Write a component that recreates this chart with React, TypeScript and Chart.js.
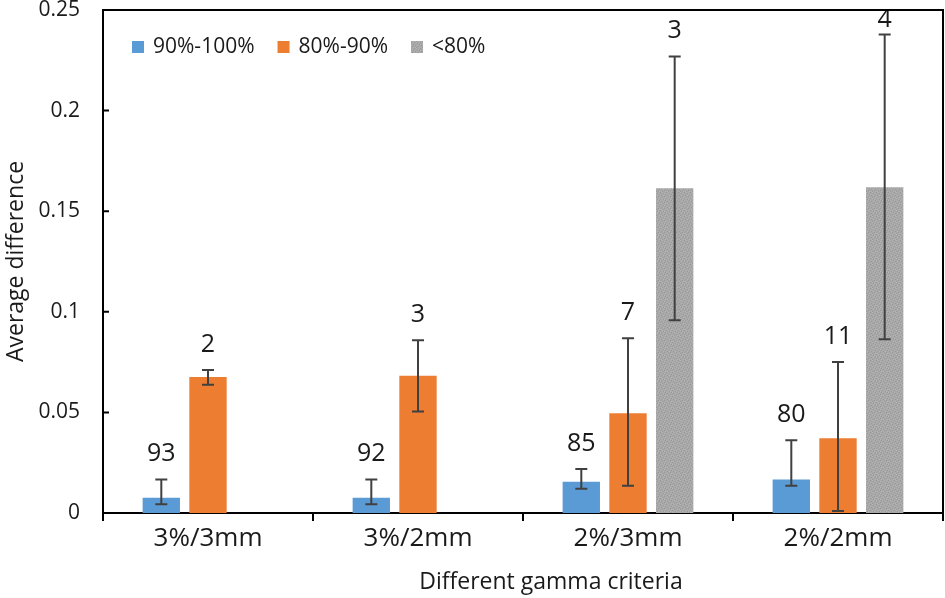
import { useEffect, useRef } from "react";
import { Chart, registerables } from "chart.js";

Chart.register(...registerables);

const categories = ["3%/3mm", "3%/2mm", "2%/3mm", "2%/2mm"];
const seriesNames = ["90%-100%", "80%-90%", "<80%"];

// mean values
const highValues = [0.0076, 0.0076, 0.0155, 0.0167];
const midValues = [0.0676, 0.0682, 0.0496, 0.0371];
const lowValues = [null, null, 0.1614, 0.1619];

// error bar ends
const highErrLow = [0.0043, 0.0043, 0.0121, 0.0135];
const highErrHigh = [0.0167, 0.0167, 0.0219, 0.0361];
const midErrLow = [0.0638, 0.0504, 0.0135, 0.001];
const midErrHigh = [0.0711, 0.0858, 0.0869, 0.0751];
const lowErrLow = [null, null, 0.0958, 0.0864];
const lowErrHigh = [null, null, 0.2269, 0.2378];

// numbers written over each bar
const highCounts = [93, 92, 85, 80];
const midCounts = [2, 3, 7, 11];
const lowCounts = [null, null, 3, 4];

const yTicks = [0, 0.05, 0.1, 0.15, 0.2, 0.25];

const xTitle = "Different gamma criteria";
const yTitle = "Average difference";

const FONT = "'Open Sans', sans-serif";
const TEXT = "#1a1a1a";

// stippled grey fill like the original
function greyPattern(): CanvasPattern | string {
  const c = document.createElement("canvas");
  c.width = 6;
  c.height = 6;
  const g = c.getContext("2d");
  if (!g) return "#a6a6a6";
  g.fillStyle = "#a8a8a8";
  g.fillRect(0, 0, 6, 6);
  g.fillStyle = "#999999";
  const dots = [[0, 0], [3, 1], [5, 2], [1, 3], [4, 4], [2, 5]];
  dots.forEach(([px, py]) => g.fillRect(px, py, 1, 1));
  g.fillStyle = "#b4b4b4";
  const light = [[2, 0], [0, 2], [4, 1], [3, 3], [5, 5], [1, 5]];
  light.forEach(([px, py]) => g.fillRect(px, py, 1, 1));
  const p = g.createPattern(c, "repeat");
  return p ?? "#a6a6a6";
}

const extrasPlugin = {
  id: "extras",
  afterDatasetsDraw(chart: any) {
    const { ctx, chartArea } = chart;
    const y = chart.scales.y;
    ctx.save();

    // error bars
    chart.data.datasets.forEach((ds: any, i: number) => {
      const meta = chart.getDatasetMeta(i);
      meta.data.forEach((bar: any, j: number) => {
        const lo = ds.errLow[j];
        const hi = ds.errHigh[j];
        if (lo == null || hi == null) return;
        const yl = y.getPixelForValue(lo);
        const yh = y.getPixelForValue(hi);
        ctx.strokeStyle = "#404040";
        ctx.lineWidth = 2;
        ctx.beginPath();
        ctx.moveTo(bar.x, yl);
        ctx.lineTo(bar.x, yh);
        ctx.moveTo(bar.x - 6, yl);
        ctx.lineTo(bar.x + 6, yl);
        ctx.moveTo(bar.x - 6, yh);
        ctx.lineTo(bar.x + 6, yh);
        ctx.stroke();

        const n = ds.counts[j];
        if (n != null) {
          ctx.fillStyle = TEXT;
          ctx.font = `25px ${FONT}`;
          ctx.textAlign = "center";
          ctx.textBaseline = "alphabetic";
          ctx.fillText(String(n), bar.x, Math.max(yh - 18, 27));
        }
      });
    });

    // frame
    ctx.strokeStyle = "#000";
    ctx.lineWidth = 2;
    ctx.beginPath();
    ctx.moveTo(chartArea.left, chartArea.top);
    ctx.lineTo(chartArea.right, chartArea.top);
    ctx.lineTo(chartArea.right, chartArea.bottom);
    ctx.stroke();

    // inward y tick marks
    ctx.beginPath();
    y.ticks.forEach((t: any) => {
      const py = y.getPixelForValue(t.value);
      ctx.moveTo(chartArea.left, py);
      ctx.lineTo(chartArea.left + 6, py);
    });
    ctx.stroke();

    // legend inside the plot
    ctx.font = `21px ${FONT}`;
    ctx.textAlign = "left";
    ctx.textBaseline = "middle";
    let lx = chartArea.left + 29;
    const ly = chartArea.top + 37;
    chart.data.datasets.forEach((ds: any) => {
      ctx.fillStyle = ds.backgroundColor;
      ctx.fillRect(lx, ly - 6, 12, 12);
      ctx.fillStyle = TEXT;
      ctx.fillText(ds.label, lx + 21, ly);
      lx += 21 + ctx.measureText(ds.label).width + 23;
    });

    // x axis title, sits a bit right of centre in the original
    ctx.font = `23px ${FONT}`;
    ctx.textAlign = "center";
    ctx.textBaseline = "middle";
    ctx.fillStyle = TEXT;
    ctx.fillText(xTitle, (chartArea.left + chartArea.right) / 2 + 28, chart.height - 16);

    ctx.restore();
  },
};

const BarChart = () => {
  const chartRef = useRef<HTMLCanvasElement>(null);
  const chartInstanceRef = useRef<Chart>();

  useEffect(() => {
    if (chartRef.current) {
      if (chartInstanceRef.current) {
        chartInstanceRef.current.destroy();
      }
      const ctx = chartRef.current.getContext("2d");
      if (ctx) {
        chartInstanceRef.current = new Chart(ctx, {
          type: "bar",
          data: {
            labels: categories,
            datasets: [
              {
                label: seriesNames[0],
                data: highValues,
                backgroundColor: "#5b9bd5",
                errLow: highErrLow,
                errHigh: highErrHigh,
                counts: highCounts,
              } as any,
              {
                label: seriesNames[1],
                data: midValues,
                backgroundColor: "#ed7d31",
                errLow: midErrLow,
                errHigh: midErrHigh,
                counts: midCounts,
              } as any,
              {
                label: seriesNames[2],
                data: lowValues,
                backgroundColor: greyPattern(),
                errLow: lowErrLow,
                errHigh: lowErrHigh,
                counts: lowCounts,
              } as any,
            ],
          },
          options: {
            responsive: false,
            animation: false,
            devicePixelRatio: 1,
            layout: { padding: { top: 10, right: 2, left: 0, bottom: 0 } },
            datasets: {
              bar: { categoryPercentage: 0.667, barPercentage: 0.8 },
            },
            plugins: {
              legend: { display: false },
              tooltip: { enabled: false },
            },
            scales: {
              x: {
                offset: true,
                grid: {
                  offset: true,
                  drawOnChartArea: false,
                  drawTicks: true,
                  tickLength: 8,
                  color: "#000",
                  lineWidth: 2,
                },
                border: { display: true, color: "#000", width: 2 },
                ticks: {
                  color: TEXT,
                  font: { family: FONT, size: 26 },
                  padding: 2,
                },
                afterFit: (s: any) => {
                  s.height = 85;
                  s.paddingLeft = 0;
                  s.paddingRight = 0;
                },
              },
              y: {
                min: 0,
                max: 0.25,
                afterBuildTicks: (s: any) => {
                  s.ticks = yTicks.map((v) => ({ value: v }));
                },
                grid: { display: false, drawTicks: false },
                border: { display: true, color: "#000", width: 2 },
                ticks: {
                  color: TEXT,
                  font: { family: FONT, size: 21 },
                  padding: 23,
                  callback: (v: any) => String(Number(v)),
                },
                title: {
                  display: true,
                  text: yTitle,
                  color: TEXT,
                  font: { family: FONT, size: 23 },
                  padding: { top: 3, bottom: 0 },
                },
                afterFit: (s: any) => {
                  s.width = 103;
                  s.paddingTop = 0;
                  s.paddingBottom = 0;
                },
              },
            },
          },
          plugins: [extrasPlugin],
        });
      }
    }
    return () => {
      if (chartInstanceRef.current) {
        chartInstanceRef.current.destroy();
      }
    };
  }, []);

  return <canvas ref={chartRef} width={945} height={598} />;
};

export default function App() {
  return (
    <div style={{ position: "absolute", left: 0, top: 0, width: 945, height: 598, background: "#fff" }}>
      <BarChart />
    </div>
  );
}
